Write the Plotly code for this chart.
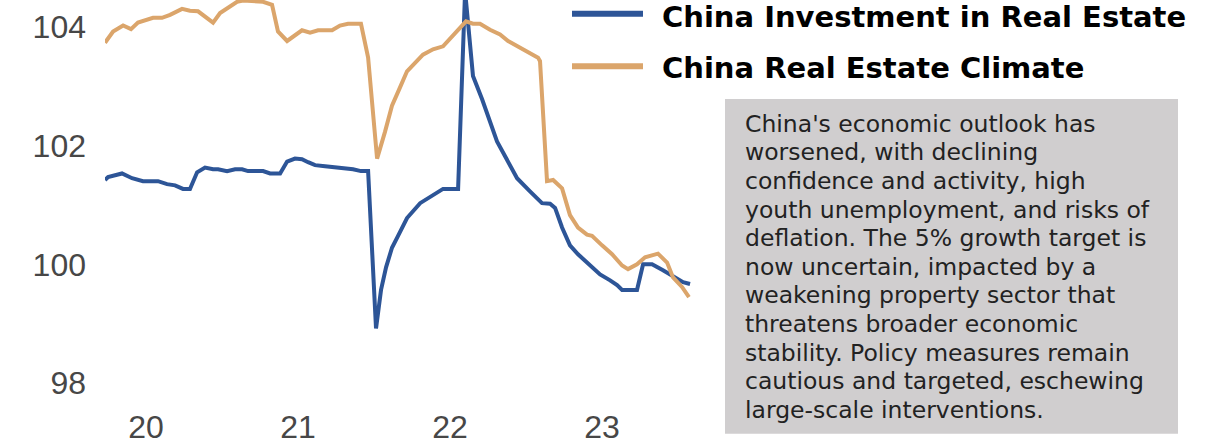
import plotly.graph_objects as go

# Time axis in decimal years; tick labels show the two-digit year
invest_t = [
    2019.730, 2019.750, 2019.842, 2019.908, 2019.980, 2020.079, 2020.138, 2020.191, 2020.243, 2020.289,
    2020.336, 2020.388, 2020.441, 2020.474, 2020.533, 2020.586, 2020.632, 2020.671, 2020.770, 2020.816,
    2020.882, 2020.928, 2020.980, 2021.026, 2021.066, 2021.112, 2021.178, 2021.263, 2021.322, 2021.362,
    2021.414, 2021.461, 2021.513, 2021.546, 2021.579, 2021.618, 2021.658, 2021.717, 2021.803, 2021.882,
    2021.954, 2022.053, 2022.099, 2022.151, 2022.211, 2022.309, 2022.441, 2022.526, 2022.605, 2022.658,
    2022.691, 2022.737, 2022.789, 2022.842, 2022.901, 2022.987, 2023.053, 2023.099, 2023.132, 2023.230,
    2023.270, 2023.329, 2023.401, 2023.493, 2023.533, 2023.579,
]
invest = [
    101.42, 101.47, 101.53, 101.45, 101.40, 101.40, 101.35, 101.33, 101.27, 101.27,
    101.55, 101.63, 101.60, 101.60, 101.57, 101.60, 101.60, 101.57, 101.57, 101.53,
    101.53, 101.73, 101.78, 101.77, 101.72, 101.67, 101.65, 101.63, 101.60, 101.60,
    101.57, 101.57, 98.92, 99.57, 99.95, 100.28, 100.48, 100.78, 101.03, 101.15,
    101.27, 101.27, 104.60, 103.17, 102.78, 102.07, 101.45, 101.23, 101.03, 101.02,
    100.95, 100.62, 100.32, 100.17, 100.03, 99.83, 99.73, 99.65, 99.57, 99.57,
    100.00, 100.00, 99.90, 99.75, 99.70, 99.67,
]

climate_t = [
    2019.730, 2019.783, 2019.849, 2019.901, 2019.947, 2020.046, 2020.105, 2020.158, 2020.237, 2020.289,
    2020.342, 2020.388, 2020.441, 2020.487, 2020.539, 2020.599, 2020.638, 2020.717, 2020.770, 2020.829,
    2020.868, 2020.928, 2021.026, 2021.079, 2021.132, 2021.224, 2021.276, 2021.329, 2021.414, 2021.461,
    2021.520, 2021.572, 2021.618, 2021.671, 2021.717, 2021.822, 2021.888, 2021.954, 2022.033, 2022.105,
    2022.151, 2022.197, 2022.263, 2022.329, 2022.382, 2022.480, 2022.579, 2022.592, 2022.638, 2022.678,
    2022.737, 2022.789, 2022.842, 2022.901, 2022.934, 2023.000, 2023.066, 2023.132, 2023.171, 2023.230,
    2023.283, 2023.368, 2023.428, 2023.467, 2023.526, 2023.572,
]
climate = [
    103.73, 103.92, 104.02, 103.96, 104.07, 104.15, 104.15, 104.20, 104.30, 104.27,
    104.26, 104.18, 104.07, 104.23, 104.31, 104.42, 104.44, 104.42, 104.42, 104.37,
    103.92, 103.76, 103.94, 103.90, 103.94, 103.94, 104.02, 104.05, 104.05, 103.48,
    101.78, 102.23, 102.67, 102.98, 103.25, 103.53, 103.62, 103.67, 103.90, 104.09,
    104.05, 104.05, 103.95, 103.87, 103.76, 103.62, 103.48, 103.42, 101.40, 101.42,
    101.28, 100.83, 100.62, 100.50, 100.48, 100.32, 100.17, 99.98, 99.92, 100.00,
    100.12, 100.18, 100.03, 99.78, 99.62, 99.45,
]

year_ticks = [2020, 2021, 2022, 2023]
year_labels = ["20", "21", "22", "23"]
value_ticks = [98, 100, 102, 104]

series_names = ["China Investment in Real Estate", "China Real Estate Climate"]
series_colors = ["#2d5597", "#dba56b"]

note_lines = [
    "China's economic outlook has",
    "worsened, with declining",
    "confidence and activity, high",
    "youth unemployment, and risks of",
    "deflation. The 5% growth target is",
    "now uncertain, impacted by a",
    "weakening property sector that",
    "threatens broader economic",
    "stability. Policy measures remain",
    "cautious and targeted, eschewing",
    "large-scale interventions.",
]

W, H = 1219, 445
L, R, T, B = 105, 526, 0, 40
PW, PH = W - L - R, H - T - B


def px(x):
    return (x - L) / PW


def py(y):
    return (H - B - y) / PH


fig = go.Figure()
fig.add_trace(go.Scatter(x=invest_t, y=invest, mode="lines", name=series_names[0],
                         line=dict(color=series_colors[0], width=4), showlegend=False))
fig.add_trace(go.Scatter(x=climate_t, y=climate, mode="lines", name=series_names[1],
                         line=dict(color=series_colors[1], width=4), showlegend=False))

shapes = []
annotations = []

# Legend: thick line swatches with bold labels
for i, (name, color) in enumerate(zip(series_names, series_colors)):
    ly = [14, 67][i]
    ty = [17, 69][i]
    shapes.append(dict(type="line", xref="paper", yref="paper",
                       x0=px(572), x1=px(643), y0=py(ly), y1=py(ly),
                       line=dict(color=color, width=6)))
    annotations.append(dict(text=name, xref="paper", yref="paper", x=px(660), y=py(ty),
                            xanchor="left", yanchor="middle", showarrow=False,
                            font=dict(family="DejaVu Sans", size=29, color="#000000", weight="bold")))

# Commentary box, one annotation per line for even spacing
shapes.append(dict(type="rect", xref="paper", yref="paper", layer="below",
                   x0=px(725), x1=px(1178), y0=py(438), y1=py(100),
                   fillcolor="#d0cecf", line=dict(width=0)))
for i, line_text in enumerate(note_lines):
    annotations.append(dict(text=line_text, xref="paper", yref="paper",
                            x=px(743), y=py(125 + 28.9 * i),
                            xanchor="left", yanchor="middle", align="left", showarrow=False,
                            font=dict(family="DejaVu Sans", size=23.5, color="#222222")))

fig.update_layout(
    width=W, height=H,
    margin=dict(l=L, r=R, t=T, b=B, pad=0),
    paper_bgcolor="white", plot_bgcolor="white",
    shapes=shapes, annotations=annotations,
    xaxis=dict(range=[2019.73, 2019.73 + PW / 152], tickvals=year_ticks, ticktext=year_labels,
               showgrid=False, zeroline=False, showline=False, ticks="",
               tickfont=dict(family="Liberation Sans", size=32, color="#474747"),
               ticklabelstandoff=4),
    yaxis=dict(range=[97.7, 104.45], tickvals=value_ticks,
               showgrid=False, zeroline=False, showline=False, ticks="",
               tickfont=dict(family="Liberation Sans", size=32, color="#474747"),
               ticklabelstandoff=18),
)

fig.write_html("out.html")
